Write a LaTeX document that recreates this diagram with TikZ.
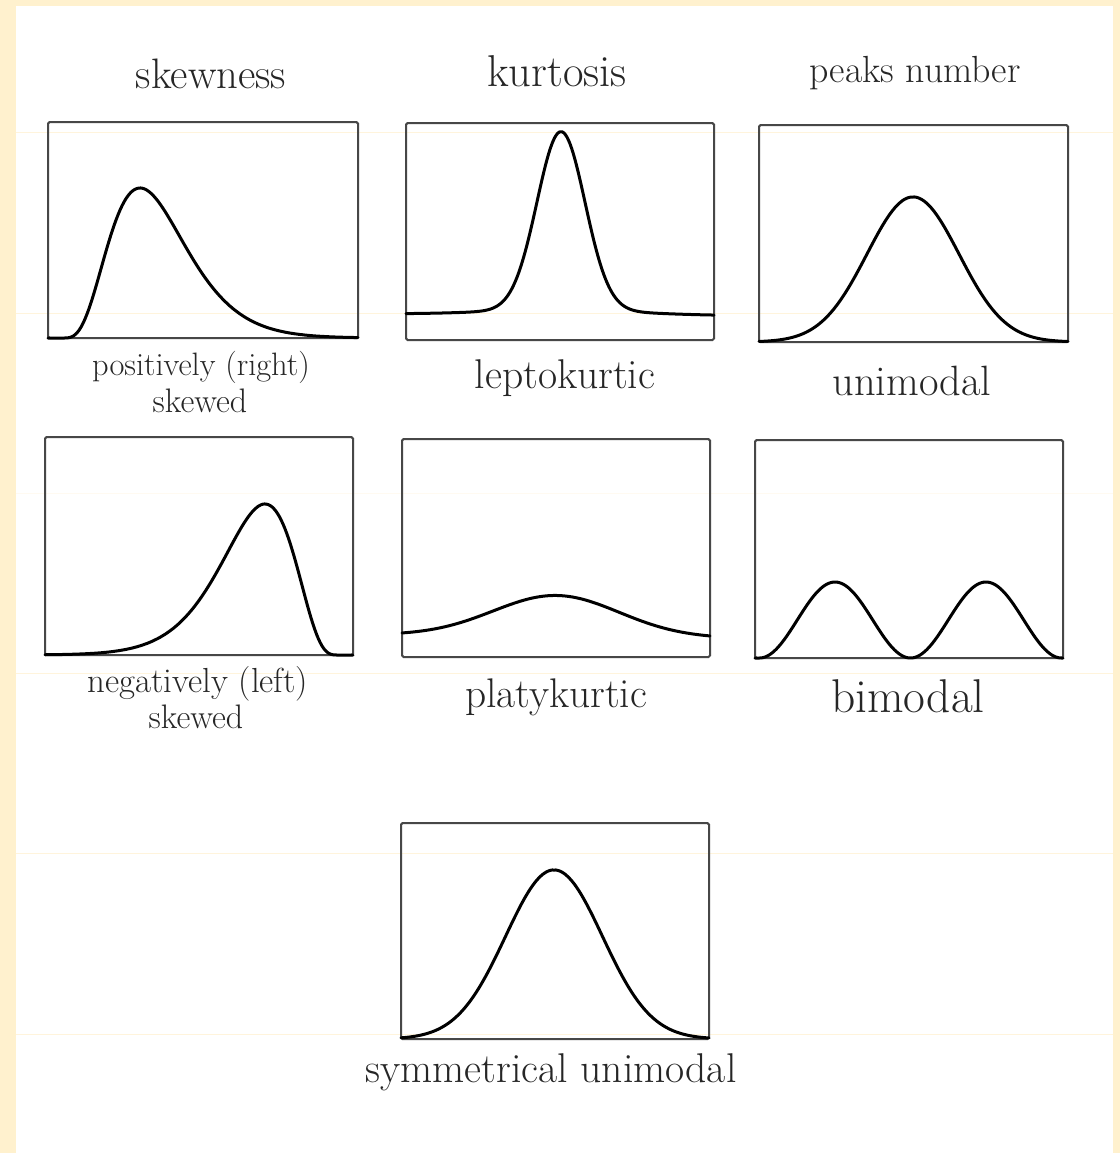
\documentclass[tikz,border=0pt]{standalone}
\usetikzlibrary{positioning}

\definecolor{cream}{RGB}{255,241,206}
\definecolor{creamline}{RGB}{255,244,220}

\begin{document}
\begin{tikzpicture}[
  x=0.5pt,y=-0.5pt,
  declare function={
    skw(\r)=(\r*\r*exp(2*(1-\r)))^2;
    bell(\d)=(exp(-0.125*\d*\d))^4;
  },
  panel/.style={draw=black!72,line width=1pt,rounded corners=0.8pt},
  curve/.style={draw=black,line width=1.5pt,line cap=round,line join=round},
  txt/.style={anchor=base,inner sep=0pt,text=black!85,font=\fontsize{#1}{#1}\selectfont},
  scan/.style={draw=creamline,line width=0.5pt},
]

% page and frame
\useasboundingbox (0,0) rectangle (1120,1153);
\fill[cream] (0,0) rectangle (1120,1153);
\fill[white] (16,6) rectangle (1113,1153);
\foreach \yy in {132,313,673,853,1034}
  \draw[scan] (16,\yy) -- (1113,\yy);
\draw[scan,draw opacity=0.4] (16,493) -- (1113,493);

% column headings
\node[txt=21.3] (skew) at (211,88) {skewness};
\node[txt=22.3] (kurt) at (557,86) {kurtosis};
\node[txt=18.9] (peaks) at (915,82) {peaks number};

% panels
\draw[panel] (48,122) rectangle (358,338);
\draw[panel] (406,123) rectangle (714,340);
\draw[panel] (759,125) rectangle (1068,342);
\draw[panel] (45,437) rectangle (353,655);
\draw[panel] (402,439) rectangle (710,657);
\draw[panel] (755,440) rectangle (1063,658);
\draw[panel] (401,823) rectangle (709,1039);

% curves
\draw[curve] (48,338) -- plot[domain=62.5:358,samples=160]
  (\x,{338-150*skw((\x-62)/78)});
\draw[curve] plot[domain=406:714,samples=200]
  (\x,{314+1.5*(\x-406)/308-178*bell((\x-561)/24)-5*bell((\x-561)/70)});
\draw[curve] plot[domain=759:1068,samples=160]
  (\x,{342-145*bell((\x-913)/46)});
\draw[curve] plot[domain=45:338.5,samples=160]
  (\x,{655-151*skw((339-\x)/74)}) -- (353,655);
\draw[curve] plot[domain=402:710,samples=160]
  (\x,{635+3*(\x-402)/308-41*bell((\x-556)/63)});
\draw[curve] (755,658) -- plot[domain=759.5:1061.5,samples=160]
  (\x,{658-38*(1-cos(2.3841*(\x-759.5)))}) -- (1063,658);
\draw[curve] plot[domain=401:709,samples=160]
  (\x,{1039-169*bell((\x-554)/48.5)});

% captions
\node[txt=16.2] (posa) at (201,375) {positively (right)};
\node[txt=17.0] (posb) at (200,412) {skewed};
\node[txt=20.8] (lepto) at (565,388) {leptokurtic};
\node[txt=21.2] (uni) at (912,395) {unimodal};
\node[txt=17.4] (nega) at (198,692) {negatively (left)};
\node[txt=17.0] (negb) at (196,728) {skewed};
\node[txt=20.7] (platy) at (556,707) {platykurtic};
\node[txt=23.7] (bi) at (908,712) {bimodal};
\node[txt=20.8] (sym) at (551,1082) {symmetrical unimodal};

\end{tikzpicture}
\end{document}
